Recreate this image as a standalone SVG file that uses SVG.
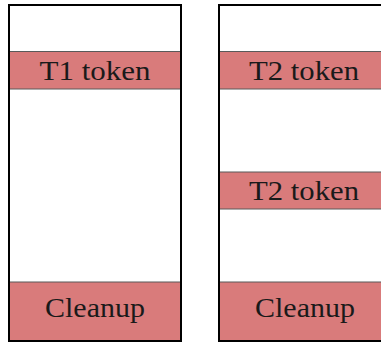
<svg xmlns="http://www.w3.org/2000/svg" width="381" height="343" viewBox="0 0 381 343">
  <style>
    .frame { fill: #ffffff; stroke: #000000; stroke-width: 2; }
    .band { fill: #d97b7b; stroke: #5a5a5a; stroke-width: 1; }
    .label { font-family: "Liberation Serif", "DejaVu Serif", serif; font-size: 27.5px; fill: #1a1a1a; text-anchor: middle; }
  </style>
  <rect width="381" height="343" fill="#ffffff"/>
  <g id="left-stack">
    <rect class="frame" x="9" y="5" width="172" height="336"/>
    <g id="t1-token">
      <rect class="band" x="9" y="51.5" width="172" height="37.5"/>
      <text class="label" x="95" y="80" textLength="111" lengthAdjust="spacingAndGlyphs">T1 token</text>
    </g>
    <g id="left-cleanup">
      <rect class="band" x="9" y="282" width="172" height="59"/>
      <text class="label" x="95" y="317" textLength="100" lengthAdjust="spacingAndGlyphs">Cleanup</text>
    </g>
    <rect x="9" y="5" width="172" height="336" fill="none" stroke="#000" stroke-width="2"/>
  </g>
  <g id="right-stack">
    <rect class="frame" x="219" y="5" width="172" height="336"/>
    <g id="t2-token-a">
      <rect class="band" x="219" y="51.5" width="172" height="37.5"/>
      <text class="label" x="304" y="80" textLength="110" lengthAdjust="spacingAndGlyphs">T2 token</text>
    </g>
    <g id="t2-token-b">
      <rect class="band" x="219" y="172" width="172" height="37"/>
      <text class="label" x="304" y="200" textLength="110" lengthAdjust="spacingAndGlyphs">T2 token</text>
    </g>
    <g id="right-cleanup">
      <rect class="band" x="219" y="282" width="172" height="59"/>
      <text class="label" x="305" y="317" textLength="100" lengthAdjust="spacingAndGlyphs">Cleanup</text>
    </g>
    <rect x="219" y="5" width="172" height="336" fill="none" stroke="#000" stroke-width="2"/>
  </g>
</svg>
